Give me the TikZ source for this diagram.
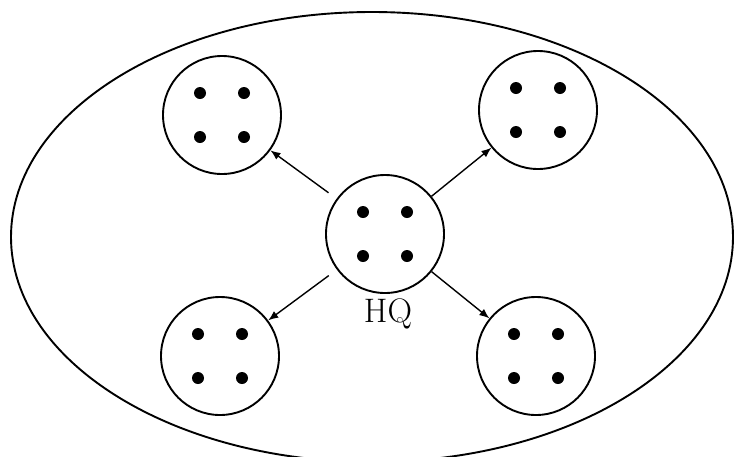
\documentclass[tikz,border=0pt]{standalone}
\usepackage{tikz}
\usetikzlibrary{arrows.meta,positioning}

\begin{document}
\begin{tikzpicture}[
  x=1pt, y=-1pt,
  unit/.style={circle, draw, line width=1.9pt, minimum size=118pt, inner sep=0pt},
  dot/.style={circle, fill=black, minimum size=12pt, inner sep=0pt},
  arr/.style={-{Latex[length=10pt,width=8pt]}, line width=1.4pt}
]
\useasboundingbox (0,0) rectangle (736,456);
\clip (0,0) rectangle (736,456);
% outer boundary
\draw[line width=1.9pt] (372,237) ellipse (361 and 225);
% headquarters and branches
\node[unit] (hq) at (385,234) {};
\node[unit] (tl) at (222,115) {};
\node[unit] (tr) at (538,110) {};
\node[unit] (bl) at (220,356) {};
\node[unit] (br) at (536,356) {};
\node[font=\fontsize{34}{40}\selectfont] (hqlabel) at (388,314) {HQ};
\foreach \c in {hq,tl,tr,bl,br}
  \foreach \dx/\dy in {-22/-22,22/-22,-22/22,22/22}
    \node[dot] at ([shift={(\dx,\dy)}]\c) {};
\draw[arr, shorten <=10pt] (hq) -- (tl);
\draw[arr] (hq) -- (tr);
\draw[arr, shorten <=10pt] (hq) -- (bl);
\draw[arr] (hq) -- (br);
\end{tikzpicture}
\end{document}
